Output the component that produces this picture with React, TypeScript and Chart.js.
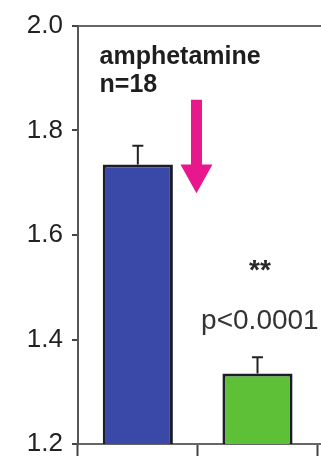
import React, { useEffect, useRef } from "react";
import { Chart, registerables } from "chart.js";

Chart.register(...registerables);

const categories = ["amphetamine", "amphetamine + treatment", "other"];
const means: (number | null)[] = [1.735, 1.335, null];
const errors: (number | null)[] = [0.036, 0.031, null];
const yTicks = [1.2, 1.4, 1.6, 1.8, 2.0];
const groupTitle = "amphetamine";
const groupN = "n=18";
const sigStars = "**";
const pText = "p<0.0001";

const errorBarPlugin = {
  id: "errorBars",
  afterDatasetsDraw(chart: any) {
    const ctx = chart.ctx;
    const meta = chart.getDatasetMeta(0);
    const y = chart.scales.y;
    ctx.save();
    ctx.strokeStyle = "#222";
    ctx.lineWidth = 2;
    meta.data.forEach((bar: any, i: number) => {
      const m = means[i];
      const e = errors[i];
      if (m == null || e == null) return;
      const x = bar.x;
      const yTop = y.getPixelForValue(m + e);
      const yBase = y.getPixelForValue(m);
      ctx.beginPath();
      ctx.moveTo(x, yBase);
      ctx.lineTo(x, yTop);
      ctx.moveTo(x - 5.5, yTop);
      ctx.lineTo(x + 5.5, yTop);
      ctx.stroke();
    });
    ctx.restore();
  },
};

const annotationPlugin = {
  id: "annotations",
  afterDraw(chart: any) {
    const ctx = chart.ctx;
    const xs = chart.scales.x;
    const ys = chart.scales.y;
    ctx.save();
    ctx.fillStyle = "#1e1e1e";
    ctx.font = "bold 25px 'Liberation Sans', Arial, sans-serif";
    ctx.textAlign = "left";
    ctx.textBaseline = "alphabetic";
    const tx = xs.getPixelForValue(-0.32);
    ctx.fillText(groupTitle, tx, ys.getPixelForValue(1.928));
    ctx.fillText(groupN, tx, ys.getPixelForValue(1.874));

    const ax = xs.getPixelForValue(0.49);
    const aTop = ys.getPixelForValue(1.859);
    const aTip = ys.getPixelForValue(1.68);
    const aHead = ys.getPixelForValue(1.735);
    ctx.fillStyle = "#e8188c";
    ctx.beginPath();
    ctx.moveTo(ax - 5.5, aTop);
    ctx.lineTo(ax + 5.5, aTop);
    ctx.lineTo(ax + 5.5, aHead);
    ctx.lineTo(ax + 16, aHead);
    ctx.lineTo(ax, aTip);
    ctx.lineTo(ax - 16, aHead);
    ctx.lineTo(ax - 5.5, aHead);
    ctx.closePath();
    ctx.fill();

    const sx = xs.getPixelForValue(1.02);
    ctx.fillStyle = "#2a2a2a";
    ctx.textAlign = "center";
    ctx.font = "bold 28px 'Liberation Sans', Arial, sans-serif";
    ctx.fillText(sigStars, sx, ys.getPixelForValue(1.515));
    ctx.fillStyle = "#333";
    ctx.font = "28px 'Liberation Sans', Arial, sans-serif";
    ctx.fillText(pText, sx, ys.getPixelForValue(1.421));
    ctx.restore();
  },
};

export default function App() {
  const ref = useRef<HTMLCanvasElement | null>(null);

  useEffect(() => {
    if (!ref.current) return;
    const chart = new Chart(ref.current, {
      type: "bar",
      data: {
        labels: categories,
        datasets: [
          {
            data: means as any,
            backgroundColor: ["#3a48a8", "#5ec037", "#999"],
            borderColor: "#1c1c2a",
            borderWidth: 3,
            barPercentage: 0.586,
            categoryPercentage: 1,
          },
        ],
      },
      options: {
        responsive: false,
        animation: false,
        layout: { padding: { top: 26, left: 0, right: 0, bottom: 0 } },
        plugins: {
          legend: { display: false },
          tooltip: { enabled: false },
        },
        scales: {
          x: {
            offset: true,
            ticks: { display: false },
            grid: {
              offset: true,
              drawOnChartArea: false,
              drawTicks: true,
              tickLength: 12,
              tickColor: "#444",
              tickWidth: 2,
            },
            border: { display: true, color: "#666", width: 2 },
          },
          y: {
            min: 1.2,
            max: 2.0,
            afterFit: (s: any) => {
              s.width = 78;
              s.paddingTop = 0;
              s.paddingBottom = 0;
            },
            afterBuildTicks: (s: any) => {
              s.ticks = yTicks.map((v) => ({ value: v }));
            },
            ticks: {
              padding: 9,
              color: "#222",
              font: { family: "'Liberation Sans', Arial, sans-serif", size: 26 },
              callback: (v: any) => Number(v).toFixed(1),
            },
            grid: {
              color: (c: any) =>
                c.tick && Math.abs(c.tick.value - 2.0) < 1e-6 ? "#666" : "rgba(0,0,0,0)",
              lineWidth: 2,
              tickColor: "#444",
              tickLength: 6,
              tickWidth: 2,
            },
            border: { display: true, color: "#555", width: 2 },
          },
        },
      },
      plugins: [errorBarPlugin, annotationPlugin],
    });
    return () => chart.destroy();
  }, []);

  return (
    <div
      style={{
        position: "absolute",
        left: 0,
        top: 0,
        width: 321,
        height: 456,
        overflow: "hidden",
        background: "#fff",
      }}
    >
      <canvas ref={ref} width={437} height={456} style={{ width: 437, height: 456 }} />
    </div>
  );
}
